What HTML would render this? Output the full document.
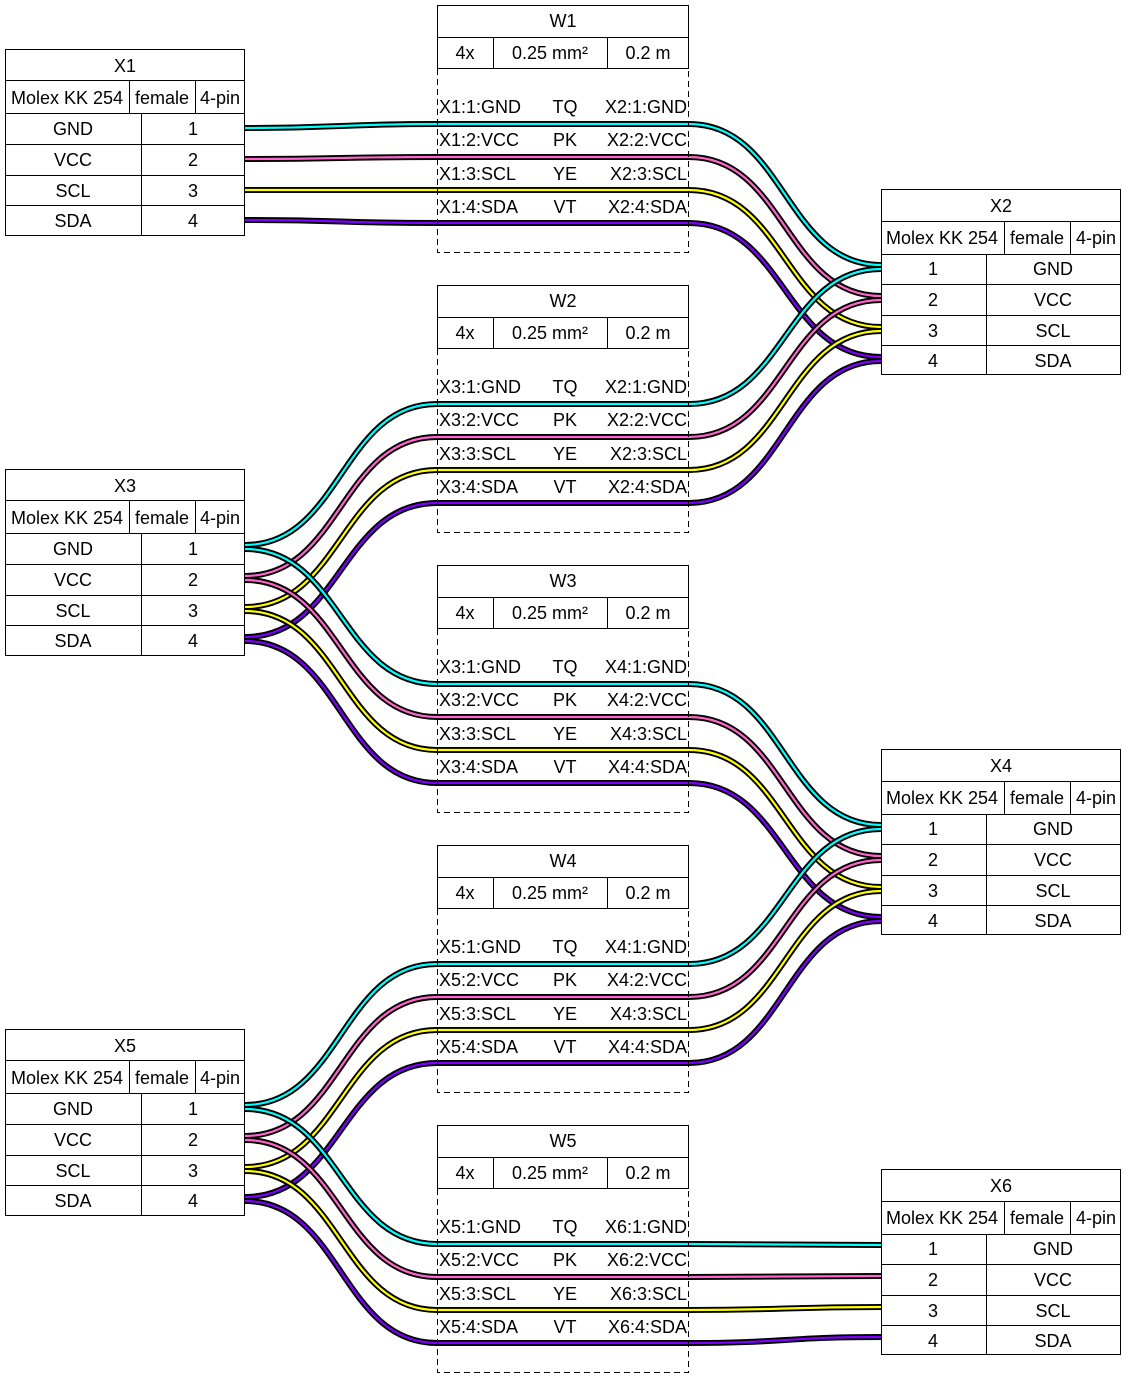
<!DOCTYPE html>
<html><head><meta charset="utf-8"><style>
html,body{margin:0;padding:0;background:#fff}
svg{display:block}
text{font-family:"Liberation Sans",Arial,sans-serif;font-size:18px;fill:#000}
</style></head><body>
<svg id="s" width="1127" height="1378" viewBox="0 0 1127 1378" xmlns="http://www.w3.org/2000/svg">
<defs>
<g id="cab">
<rect x="437.5" y="5.5" width="251" height="63" fill="#fff" stroke="#000" stroke-width="1"/>
<line x1="437" y1="37.5" x2="689" y2="37.5" stroke="#000"/>
<line x1="493.5" y1="37" x2="493.5" y2="69" stroke="#000"/>
<line x1="607.5" y1="37" x2="607.5" y2="69" stroke="#000"/>
<path d="M437.5 69 V252.5 H688.5 V69" fill="none" stroke="#000" stroke-dasharray="6,4"/>
<text x="465" y="59" text-anchor="middle">4x</text>
<text x="550" y="59" text-anchor="middle">0.25 mm²</text>
<text x="648" y="59" text-anchor="middle">0.2 m</text>
<text x="565" y="113" text-anchor="middle">TQ</text>
<text x="565" y="146" text-anchor="middle">PK</text>
<text x="565" y="180" text-anchor="middle">YE</text>
<text x="565" y="213" text-anchor="middle">VT</text>
</g>
<g id="lcon">
<rect x="5.5" y="49.5" width="239" height="186" fill="#fff" stroke="#000"/>
<path d="M5 80.5H245M5 113.5H245M5 144.5H245M5 175.5H245M5 205.5H245M129.5 80V113M195.5 80V113M141.5 113V236" stroke="#000" fill="none"/>
<text x="67" y="104" text-anchor="middle">Molex KK 254</text>
<text x="162" y="104" text-anchor="middle">female</text>
<text x="220" y="104" text-anchor="middle">4-pin</text>
<text x="73" y="135" text-anchor="middle">GND</text><text x="193" y="135" text-anchor="middle">1</text>
<text x="73" y="166" text-anchor="middle">VCC</text><text x="193" y="166" text-anchor="middle">2</text>
<text x="73" y="197" text-anchor="middle">SCL</text><text x="193" y="197" text-anchor="middle">3</text>
<text x="73" y="227" text-anchor="middle">SDA</text><text x="193" y="227" text-anchor="middle">4</text>
</g>
<g id="rcon">
<rect x="881.5" y="189.5" width="239" height="185" fill="#fff" stroke="#000"/>
<path d="M881 221.5H1121M881 254.5H1121M881 284.5H1121M881 315.5H1121M881 345.5H1121M1004.5 221V254M1070.5 221V254M986.5 254V375" stroke="#000" fill="none"/>
<text x="942" y="244" text-anchor="middle">Molex KK 254</text>
<text x="1037" y="244" text-anchor="middle">female</text>
<text x="1096" y="244" text-anchor="middle">4-pin</text>
<text x="933" y="275" text-anchor="middle">1</text><text x="1053" y="275" text-anchor="middle">GND</text>
<text x="933" y="306" text-anchor="middle">2</text><text x="1053" y="306" text-anchor="middle">VCC</text>
<text x="933" y="337" text-anchor="middle">3</text><text x="1053" y="337" text-anchor="middle">SCL</text>
<text x="933" y="367" text-anchor="middle">4</text><text x="1053" y="367" text-anchor="middle">SDA</text>
</g>
</defs>
<g id="wires"></g>
<use href="#lcon"/><text x="125" y="72" text-anchor="middle">X1</text>
<g transform="translate(0,420)"><use href="#lcon"/><text x="125" y="72" text-anchor="middle">X3</text></g>
<g transform="translate(0,980)"><use href="#lcon"/><text x="125" y="72" text-anchor="middle">X5</text></g>
<use href="#rcon"/><text x="1001" y="212" text-anchor="middle">X2</text>
<g transform="translate(0,560)"><use href="#rcon"/><text x="1001" y="212" text-anchor="middle">X4</text></g>
<g transform="translate(0,980)"><use href="#rcon"/><text x="1001" y="212" text-anchor="middle">X6</text></g>

<g><use href="#cab"/><text x="563" y="27" text-anchor="middle">W1</text>
<text x="439" y="113">X1:1:GND</text><text x="687" y="113" text-anchor="end">X2:1:GND</text>
<text x="439" y="146">X1:2:VCC</text><text x="687" y="146" text-anchor="end">X2:2:VCC</text>
<text x="439" y="180">X1:3:SCL</text><text x="687" y="180" text-anchor="end">X2:3:SCL</text>
<text x="439" y="213">X1:4:SDA</text><text x="687" y="213" text-anchor="end">X2:4:SDA</text></g>
<g transform="translate(0,280)"><use href="#cab"/><text x="563" y="27" text-anchor="middle">W2</text>
<text x="439" y="113">X3:1:GND</text><text x="687" y="113" text-anchor="end">X2:1:GND</text>
<text x="439" y="146">X3:2:VCC</text><text x="687" y="146" text-anchor="end">X2:2:VCC</text>
<text x="439" y="180">X3:3:SCL</text><text x="687" y="180" text-anchor="end">X2:3:SCL</text>
<text x="439" y="213">X3:4:SDA</text><text x="687" y="213" text-anchor="end">X2:4:SDA</text></g>
<g transform="translate(0,560)"><use href="#cab"/><text x="563" y="27" text-anchor="middle">W3</text>
<text x="439" y="113">X3:1:GND</text><text x="687" y="113" text-anchor="end">X4:1:GND</text>
<text x="439" y="146">X3:2:VCC</text><text x="687" y="146" text-anchor="end">X4:2:VCC</text>
<text x="439" y="180">X3:3:SCL</text><text x="687" y="180" text-anchor="end">X4:3:SCL</text>
<text x="439" y="213">X3:4:SDA</text><text x="687" y="213" text-anchor="end">X4:4:SDA</text></g>
<g transform="translate(0,840)"><use href="#cab"/><text x="563" y="27" text-anchor="middle">W4</text>
<text x="439" y="113">X5:1:GND</text><text x="687" y="113" text-anchor="end">X4:1:GND</text>
<text x="439" y="146">X5:2:VCC</text><text x="687" y="146" text-anchor="end">X4:2:VCC</text>
<text x="439" y="180">X5:3:SCL</text><text x="687" y="180" text-anchor="end">X4:3:SCL</text>
<text x="439" y="213">X5:4:SDA</text><text x="687" y="213" text-anchor="end">X4:4:SDA</text></g>
<g transform="translate(0,1120)"><use href="#cab"/><text x="563" y="27" text-anchor="middle">W5</text>
<text x="439" y="113">X5:1:GND</text><text x="687" y="113" text-anchor="end">X6:1:GND</text>
<text x="439" y="146">X5:2:VCC</text><text x="687" y="146" text-anchor="end">X6:2:VCC</text>
<text x="439" y="180">X5:3:SCL</text><text x="687" y="180" text-anchor="end">X6:3:SCL</text>
<text x="439" y="213">X5:4:SDA</text><text x="687" y="213" text-anchor="end">X6:4:SDA</text></g>
</svg>
<script>
(function(){
var g=document.getElementById('wires');
var cols=['#00ffff','#ff66cc','#ffff00','#8000ff'];
var lp=[128,159,190,220], rp=[268,299,330,360], wy=[124,157,190,223];
var C=[[0,0,0,-3],[420,-3,0,1],[420,1,560,-3],[980,-3,560,1],[980,1,980,-3]];
var h='';
C.forEach(function(c,i){
 var o=i*280;
 for(var k=0;k<4;k++){
  var a=lp[k]+c[0]+c[1], w=wy[k]+o, b=rp[k]+c[2]+c[3];
  var d='M245 '+a+' C341 '+a+' 341 '+w+' 437 '+w+' L689 '+w+' C785 '+w+' 785 '+b+' 881 '+b;
  h+='<path d="'+d+'" fill="none" stroke="#000" stroke-width="6"/>';
  h+='<path d="'+d+'" fill="none" stroke="'+cols[k]+'" stroke-width="2.2"/>';
 }
});
g.innerHTML=h;
})();
</script>
</body></html>
